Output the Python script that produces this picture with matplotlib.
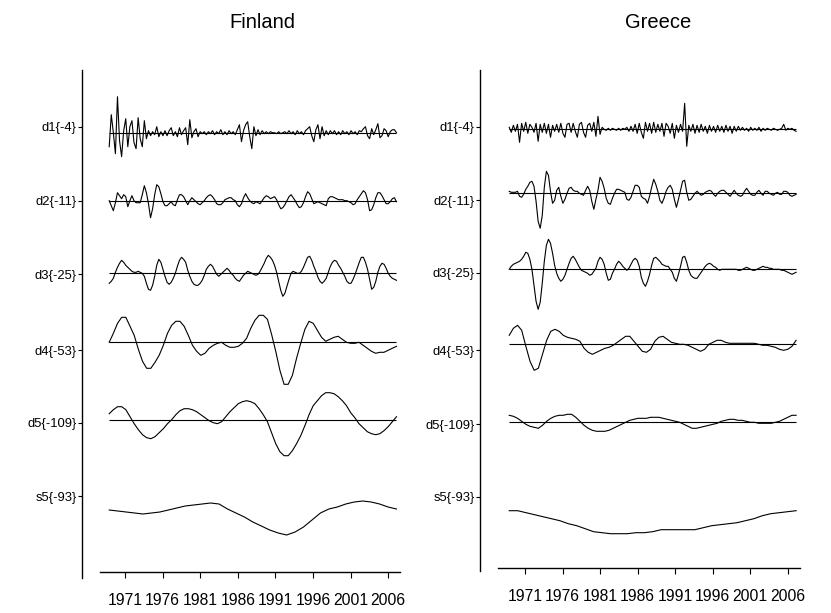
import numpy as np
import matplotlib
matplotlib.use("Agg")
import matplotlib.pyplot as plt

plt.rcParams['font.family'] = ['Liberation Sans', 'DejaVu Sans']

# ---------------- data ----------------
countries = ["Finland", "Greece"]
level_labels = ["d1{-4}", "d2{-11}", "d3{-25}", "d4{-53}", "d5{-109}", "s5{-93}"]
year_ticks = [1971, 1976, 1981, 1986, 1991, 1996, 2001, 2006]
start_year, end_year = 1968.9, 2007.1

# Finland (quarterly / semiannual / annual samples)
fin_d1 = [-14, 18, 0, -21, 36, -8, -24, 2, 14, -14, 6, 12, -10, -16, 15, -6, -14, 12, -6,
          2, -3, 1, -2, 6, -4, 1, -3, 2, -3, 2, 5, -3, 1, -4, 5, -2, 2, 5, -12, 13, -5, 1, 4, -4,
          1, -1, 1, -2, 1, -1, 2, -2, 1, -1, 3, -2, 1, -2, 2, -1, 1, -2, 3, 8, -9, 2, 8, 11, -4,
          -16, 6, -3, 3, -2, 2, -1, 1, -1, 1, 0, 0, -1, 1, -1, 0, 1, -1, 2, -1, 1, -2, 2, -1, 1,
          -2, 2, 4, 6, -3, -9, 3, 8, -6, 6, -3, 2, -2, 2, -1, 2, -2, 1, -2, 2, -1, 1, -2, 2, -1,
          1, -2, 2, 1, 4, 6, -3, -6, 4, -2, 3, 9, -5, -3, 4, 2, -4, 1, 3, 3, 0]
fin_d2 = [0, -5, -10, -2, 8, 5, 2, 6, 4, -6, 0, 5, 0, -2, -2, -2, 6, 15, 8, -3, -17, -8, 6, 16,
          14, 7, -1, -5, -5, -3, -1, -4, -5, 1, 6, 6, 4, 0, -4, 0, 3, 1, -1, -3, -4, -2, 0, 3, 5,
          6, 4, 1, -3, -4, -4, -2, 1, 2, 3, 3, 1, 0, -4, -6, -3, 3, 7, 3, 0, -2, -3, -1, -2, -3,
          0, 3, 5, 4, 2, 3, 4, 1, -4, -8, -7, -4, 0, 4, 6, 3, 0, -4, -7, -6, -2, 4, 9, 7, 2, -3,
          -2, -1, -2, -3, -4, -5, 2, 4, 4, 3, 2, 1, 1, 1, 0, 0, -1, -2, -4, -3, 1, 4, 7, 10, 8,
          1, -10, -9, -4, 3, 8, 8, 5, 1, -3, -3, -1, 2, 3, -1]
fin_d3 = [-10, -8, -5, 1, 6, 10, 13, 11, 8, 6, 4, 2, 1, 1, 2, 1, 0, -3, -10, -16, -17, -12, -3,
          8, 14, 11, 4, -3, -9, -11, -9, -5, 0, 7, 13, 16, 14, 11, 3, -3, -8, -11, -12, -12, -10,
          -7, -2, 4, 7, 9, 7, 3, -1, -3, -1, 1, 3, 5, 3, 0, -2, -5, -7, -8, -5, -2, 0, 2, 1, 0,
          -1, -2, -1, 2, 6, 10, 15, 18, 16, 13, 8, 1, -8, -17, -23, -20, -13, -6, 0, 2, 1, 0, 0,
          2, 6, 11, 16, 17, 13, 7, 2, -4, -8, -10, -8, -5, 1, 7, 11, 13, 12, 8, 5, 1, -3, -8, -10,
          -10, -6, -1, 5, 11, 16, 16, 11, 4, -6, -16, -14, -8, 1, 7, 10, 9, 5, 0, -3, -5, -6, -7]
fin_d4 = [0, 9, 19, 25, 25, 16, 7, -7, -19, -26, -26, -20, -13, -3, 9, 17, 21, 21, 16, 7, -3,
          -9, -13, -11, -6, -3, -1, 0, -3, -5, -5, -4, -1, 4, 14, 22, 27, 27, 23, 8, -9, -28,
          -42, -42, -33, -16, -1, 13, 21, 19, 12, 5, 1, 3, 5, 6, 3, 0, -1, -1, 0, -3, -6, -9,
          -11, -10, -10, -8, -6, -4]
fin_d5 = [6, 10, 13, 13, 10, 3, -4, -10, -15, -18, -19, -17, -13, -9, -4, 0, 5, 9, 11, 11, 10,
          8, 5, 2, -1, -3, -4, -2, 3, 8, 12, 16, 18, 19, 18, 16, 11, 5, -2, -13, -24, -32, -36,
          -36, -31, -24, -16, -6, 5, 14, 19, 24, 27, 27, 26, 23, 19, 14, 7, 2, -4, -8, -12, -14,
          -15, -14, -11, -7, -2, 3]
fin_s5 = [0, -1, -2, -3, -4, -3, -2, 0, 2, 4, 5, 6, 7, 6, 1, -3, -7, -12, -16, -20, -23, -25,
          -22, -17, -10, -3, 1, 3, 6, 8, 9, 8, 6, 3, 1]

# Greece
gre_d1 = [2, -3, 4, -2, 5, -13, 6, -2, 7, -4, 5, 2, -3, 6, -12, 5, -3, 6, -4, 5, -8, 4, -2, 5,
          -3, 6, -4, -8, 5, 6, -3, 6, -2, -8, 5, 7, -3, -8, 4, 6, -2, 7, -7, 13, -5, 2, 0, -1, 1,
          -1, 1, 0, -1, 1, -1, 1, 0, 2, -2, 3, -2, 5, -4, 6, -3, -9, 7, -2, 6, -4, 7, -3, 5, -2,
          6, -7, 6, 3, -4, 6, -9, 4, -3, 5, -2, 26, -17, 4, -2, 5, -4, 4, -3, 5, -2, 3, -4, 4,
          -2, 3, -3, 4, -2, 3, -3, 4, -2, 3, -4, 3, -2, 3, -1, 2, -1, 1, -2, 2, -1, 1, -1, 2, -2,
          1, -1, 1, 0, -1, 1, 0, -1, 0, 1, 5, -1, 1, 0, 1, -1, -2]
gre_d2 = [2, 1, 1, 1, 2, -3, -4, -1, 4, 7, 11, 12, 7, -8, -28, -35, -22, 6, 22, 18, 2, -10, -7,
          3, 6, -3, -10, -6, 0, 5, 6, 3, 2, 2, 0, -1, -2, 3, 7, 3, -8, -16, -6, 3, 16, 12, 5, -5,
          -10, -11, -5, 0, 4, 4, 3, 2, 1, -6, -7, -4, 2, 8, 8, 6, -3, -5, -6, -10, -3, 6, 14, 9,
          2, -7, -10, -5, 2, 6, 8, 4, -6, -14, -6, 3, 12, 13, 1, -7, -6, -3, 0, 2, 0, -2, -1, 1,
          2, 3, 2, -1, -3, 0, 2, 3, 3, 1, -1, -3, 0, 3, 0, -2, -3, -2, 2, 5, 2, -1, -2, -2, 1, 3,
          0, -2, 2, 2, 0, -1, -2, 0, 1, -1, -1, 2, 2, 1, -2, -3, -2, -1]
gre_d3 = [0, 3, 5, 6, 7, 8, 10, 13, 17, 16, 10, 0, -16, -32, -40, -33, -14, 8, 24, 30, 26, 16,
          4, -4, -9, -12, -10, -6, 0, 6, 11, 13, 10, 6, 2, -1, -2, -3, -4, -6, -5, -2, 1, 8, 12,
          10, 5, -4, -11, -10, -4, 0, 5, 8, 6, 3, 1, -1, 1, 5, 9, 11, 9, 3, -8, -14, -17, -12,
          -5, 4, 11, 12, 10, 8, 5, 4, 3, 3, 0, -3, -9, -12, -5, 3, 12, 13, 7, -1, -6, -8, -9, -9,
          -6, -3, 0, 3, 5, 6, 5, 3, 2, 0, -1, 0, 0, 0, 0, 0, 0, 0, 0, -1, -1, 0, 1, 2, 1, 0, -1,
          -1, 0, 1, 2, 3, 2, 2, 1, 1, 0, 0, 0, 0, -1, -1, -2, -3, -4, -5, -4, -3]
gre_d4 = [9, 16, 19, 14, -2, -17, -26, -24, -10, 4, 13, 15, 13, 9, 7, 6, 5, 3, -4, -8, -10, -8,
          -6, -4, -3, -1, 2, 5, 8, 8, 3, -2, -7, -8, -5, 3, 7, 8, 5, 2, 1, 0, 0, -1, -3, -5, -7,
          -5, 0, 2, 4, 4, 2, 1, 1, 1, 1, 1, 1, 1, 0, -1, -1, -2, -3, -5, -6, -5, -2, 4]
gre_d5 = [7, 6, 4, 1, -2, -4, -5, -6, -3, 1, 4, 6, 7, 7, 8, 8, 5, 1, -3, -6, -8, -9, -9, -9, -8,
          -6, -4, -2, 0, 2, 3, 4, 4, 4, 5, 5, 5, 4, 3, 2, 1, 0, -2, -4, -6, -6, -5, -4, -3, -2,
          -1, 1, 2, 3, 3, 2, 2, 1, 0, 0, -1, -1, -1, -1, 0, 1, 3, 5, 7, 7]
gre_s5 = [0, 0, -2, -4, -6, -8, -10, -13, -15, -18, -21, -22, -23, -23, -23, -22, -22, -21, -19,
          -19, -19, -19, -19, -17, -15, -14, -13, -12, -10, -8, -5, -3, -2, -1, 0]

series = {
    "Finland": [fin_d1, fin_d2, fin_d3, fin_d4, fin_d5, fin_s5],
    "Greece": [gre_d1, gre_d2, gre_d3, gre_d4, gre_d5, gre_s5],
}

# ---------------- layout (pixels of an 831x613 canvas) ----------------
W, H = 831, 613
layout = {
    "Finland": dict(axis_x=82, tick0_x=125, ppy=7.52, ax_top=70, ax_bot=578,
                    xaxis_y=572, xline=(100, 400), title_x=262, title_y=23,
                    base=[132.7, 200.7, 273.3, 342.3, 419.7, 510.0],
                    lab_y=[127, 201, 274, 350, 423, 496]),
    "Greece": dict(axis_x=480, tick0_x=525, ppy=7.51, ax_top=70, ax_bot=571,
                   xaxis_y=568, xline=(498, 800), title_x=658, title_y=23,
                   base=[129.3, 193.3, 269.3, 344.3, 422.3, 510.7],
                   lab_y=[127, 200, 273, 350, 424, 497]),
}
narrow = ['Liberation Sans Narrow', 'Liberation Sans', 'DejaVu Sans']

fig = plt.figure(figsize=(W / 100, H / 100), dpi=100)

for name in countries:
    L = layout[name]
    right_px = L["axis_x"] + 340
    ax = fig.add_axes([L["axis_x"] / W, 0, (right_px - L["axis_x"]) / W, 1])
    yr = lambda px: 1971 + (px - L["tick0_x"]) / L["ppy"]
    ax.set_xlim(yr(L["axis_x"]), yr(right_px))
    ax.set_ylim(H, 0)
    ax.patch.set_alpha(0)

    for k, vals in enumerate(series[name]):
        v = np.asarray(vals, dtype=float)
        t = np.linspace(start_year, end_year, len(v))
        ax.plot(t, L["base"][k] - v, color="black", lw=0.8, solid_joinstyle="round")
        if k < 5:
            ax.hlines(L["base"][k], start_year, end_year, color="black", lw=0.8)

    for s in ("top", "right"):
        ax.spines[s].set_visible(False)
    ax.spines["left"].set_bounds(L["ax_bot"], L["ax_top"])
    ax.spines["left"].set_linewidth(1.0)
    ax.spines["bottom"].set_position(("data", L["xaxis_y"]))
    ax.spines["bottom"].set_bounds(yr(L["xline"][0]), yr(L["xline"][1]))
    ax.spines["bottom"].set_linewidth(1.0)

    ax.set_yticks(L["lab_y"])
    ax.set_yticklabels(level_labels, family=narrow)
    ax.set_xticks(year_ticks)
    ax.set_xticklabels([str(y) for y in year_ticks], family=narrow)
    ax.tick_params(axis="y", direction="out", length=3, width=0.8, pad=1, labelsize=9.4)
    ax.tick_params(axis="x", direction="out", length=4, width=0.8, pad=11, labelsize=11.3)

    fig.text(L["title_x"] / W, 1 - L["title_y"] / H, name, ha="center", va="center", fontsize=14.5)

fig.savefig("out.png", dpi=100)
